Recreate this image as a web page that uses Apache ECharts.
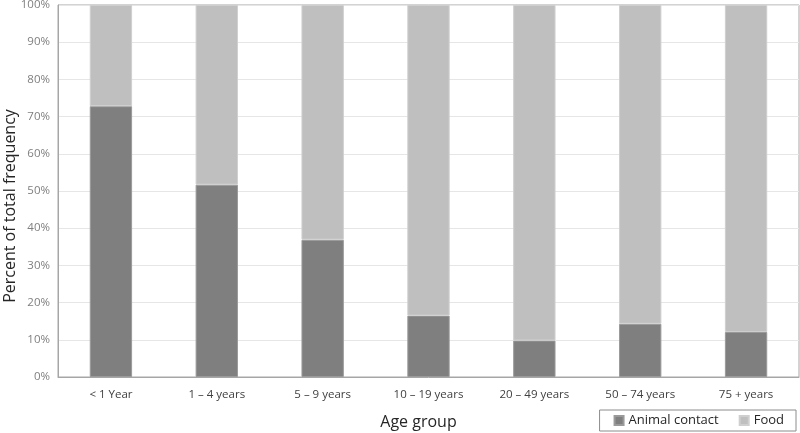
<!DOCTYPE html>
<html><head><meta charset="utf-8">
<script src="https://cdn.jsdelivr.net/npm/echarts@6/dist/echarts.min.js"></script>
<style>html,body{margin:0;padding:0;background:#fff}#c{width:800px;height:433px}</style>
</head><body><div id="c"></div>
<script>
const categories = ['< 1 Year', '1 \u2013 4 years', '5 \u2013 9 years', '10 \u2013 19 years', '20 \u2013 49 years', '50 \u2013 74 years', '75 + years'];
const animalContact = [72.8, 51.7, 36.9, 16.5, 9.8, 14.3, 12.1];
const food = animalContact.map(v => +(100 - v).toFixed(1));
const yTicks = [0, 10, 20, 30, 40, 50, 60, 70, 80, 90, 100];

const FONT = '"Open Sans", Lato, sans-serif';
const chart = echarts.init(document.getElementById('c'), null, {renderer: 'canvas'});
chart.setOption({
  animation: false,
  grid: {left: 58, right: 1, top: 5, bottom: 56, show: true, borderColor: '#a6a6a6', borderWidth: 1,
         containLabel: false, outerBoundsMode: 'none'},
  legend: {
    right: 4, bottom: 2, orient: 'horizontal',
    itemWidth: 9, itemHeight: 9, itemGap: 20, icon: 'rect',
    borderColor: '#8c8c8c', borderWidth: 1, padding: [4, 12, 4, 14],
    textStyle: {fontFamily: FONT, fontSize: 13, color: '#262626'},
    data: ['Animal contact', 'Food']
  },
  xAxis: {
    type: 'category', data: categories,
    name: 'Age group', nameLocation: 'middle', nameGap: 37, nameMoveOverlap: false,
    nameTextStyle: {fontFamily: FONT, fontSize: 16, color: '#262626', padding: [0, 20, 0, 0]},
    axisLine: {lineStyle: {color: '#a6a6a6'}},
    axisTick: {show: false},
    axisLabel: {fontFamily: FONT, fontSize: 11.5, color: '#404040', margin: 12}
  },
  yAxis: {
    type: 'value', min: 0, max: 100, interval: 10,
    name: 'Percent of total frequency', nameLocation: 'middle', nameGap: 40, nameMoveOverlap: false,
    nameTextStyle: {fontFamily: FONT, fontSize: 16, color: '#262626', padding: [0, 30, 0, 0]},
    axisLine: {show: true, lineStyle: {color: '#a6a6a6'}},
    axisTick: {show: false},
    splitLine: {lineStyle: {color: '#e6e6e6'}},
    axisLabel: {fontFamily: FONT, fontSize: 11.5, color: '#7f7f7f', margin: 8,
      formatter: v => yTicks.includes(v) ? v + '%' : ''}
  },
  series: [
    {name: 'Animal contact', type: 'bar', stack: 't', data: animalContact, barWidth: '40%',
     itemStyle: {color: '#7f7f7f', borderColor: '#9a9a9a', borderWidth: 1}},
    {name: 'Food', type: 'bar', stack: 't', data: food, barWidth: '40%',
     itemStyle: {color: '#bfbfbf', borderColor: '#cfcfcf', borderWidth: 1}}
  ]
});
</script></body></html>
